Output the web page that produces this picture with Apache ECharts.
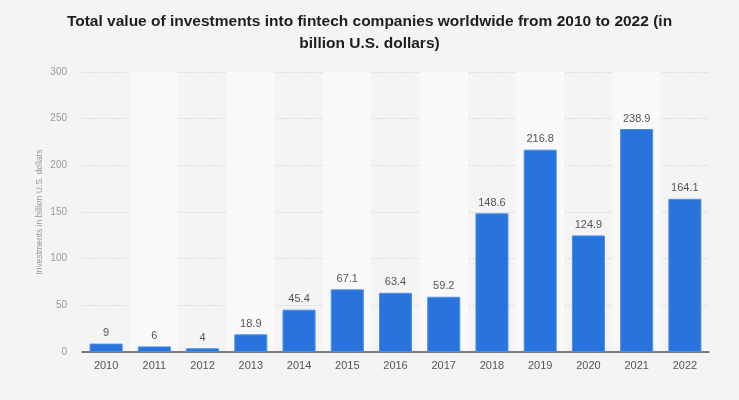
<!DOCTYPE html>
<html>
<head>
<meta charset="utf-8">
<script src="https://cdn.jsdelivr.net/npm/echarts@6/dist/echarts.min.js"></script>
<style>
html,body{margin:0;padding:0;background:#f4f4f4;}
#c{width:739px;height:400px;}
</style>
</head>
<body>
<div id="c"></div>
<script>
const years = ['2010','2011','2012','2013','2014','2015','2016','2017','2018','2019','2020','2021','2022'];
const investments = [9, 6, 4, 18.9, 45.4, 67.1, 63.4, 59.2, 148.6, 216.8, 124.9, 238.9, 164.1];
const yTicks = [0, 50, 100, 150, 200, 250, 300];

const chart = echarts.init(document.getElementById('c'), null, {renderer: 'canvas'});
chart.setOption({
  backgroundColor: '#f4f4f4',
  animation: false,
  title: {
    text: 'Total value of investments into fintech companies worldwide from 2010 to 2022 (in\nbillion U.S. dollars)',
    left: 'center',
    top: 6,
    textStyle: {
      fontFamily: 'Liberation Sans, Arial, sans-serif',
      fontSize: 15.5,
      fontWeight: 'bold',
      color: '#1e1e1e',
      lineHeight: 22
    }
  },
  grid: {left: 82, right: 30, top: 72, bottom: 48},
  xAxis: {
    type: 'category',
    data: years,
    axisTick: {show: false},
    axisLine: {lineStyle: {color: '#555', width: 1.5}},
    axisLabel: {color: '#555', fontSize: 11, margin: 8, fontFamily: 'Liberation Sans, Arial, sans-serif'},
    splitArea: {show: true, areaStyle: {color: ['rgba(0,0,0,0)', '#f9f9f9']}}
  },
  yAxis: {
    type: 'value',
    min: yTicks[0],
    max: yTicks[yTicks.length - 1],
    interval: 50,
    name: 'Investments in billion U.S. dollars',
    nameLocation: 'middle',
    nameGap: 38,
    nameMoveOverlap: false,
    nameTextStyle: {color: '#999', fontSize: 8.5, fontFamily: 'Liberation Sans, Arial, sans-serif'},
    axisLine: {show: false},
    axisTick: {show: false},
    axisLabel: {color: '#999', fontSize: 10, margin: 15, fontFamily: 'Liberation Sans, Arial, sans-serif'},
    splitLine: {lineStyle: {color: '#dcdcdc', type: [2, 1], width: 1}}
  },
  series: [{
    type: 'bar',
    data: investments,
    barWidth: '68.5%',
    itemStyle: {color: '#2873dc', borderColor: '#4d8fe8', borderWidth: 1},
    label: {
      show: true,
      position: 'top',
      distance: 5,
      color: '#555',
      fontSize: 11,
      fontFamily: 'Liberation Sans, Arial, sans-serif'
    }
  }]
});
</script>
</body>
</html>
